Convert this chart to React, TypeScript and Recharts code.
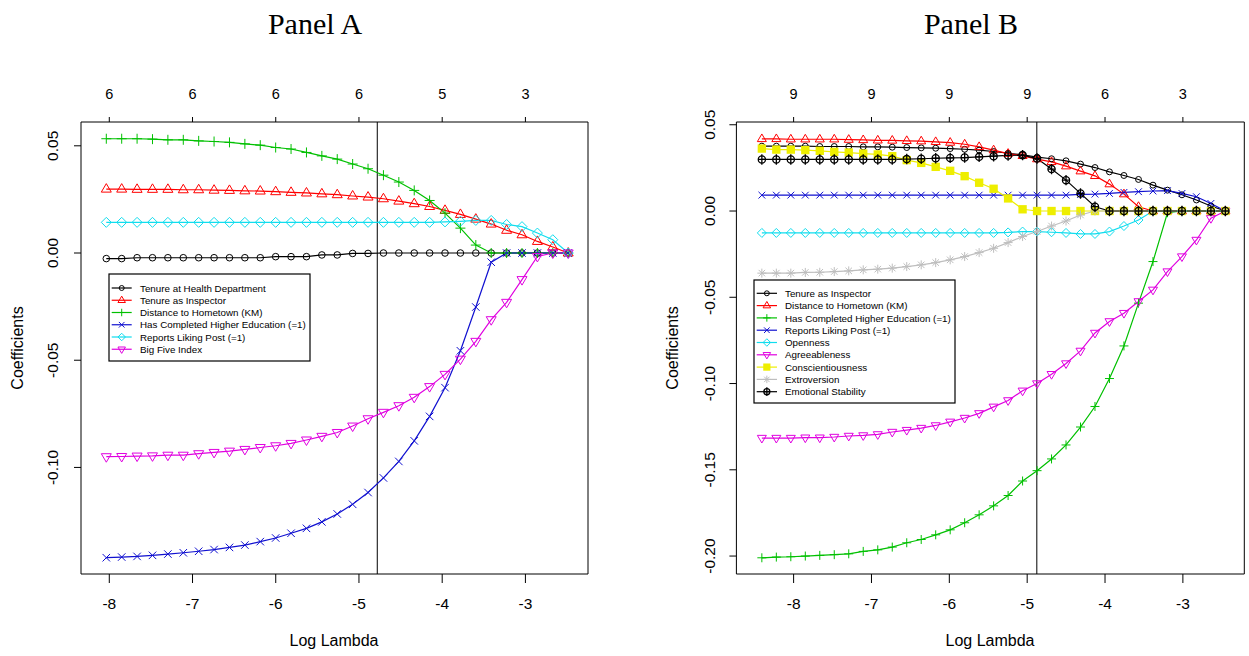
import React from 'react';
import { LineChart, Line, XAxis, YAxis, ReferenceLine } from 'recharts';

const SANS = '"Liberation Sans", Arial, sans-serif';
const SERIF = '"Liberation Serif", "Times New Roman", serif';

// ---------- axis ticks ----------
const lambdaTicks = [-8, -7, -6, -5, -4, -3];
const dfLabelsA = ['6', '6', '6', '6', '5', '3'];
const dfLabelsB = ['9', '9', '9', '9', '6', '3'];
const coefTicksA = [0.05, 0, -0.05, -0.1];
const coefTicksB = [0.05, 0, -0.05, -0.1, -0.15, -0.2];
const cvLambdaA = -4.78;
const cvLambdaB = -4.876;

// ---------- Panel A data ----------
const logLambdaA = [
  -8.036, -7.851, -7.666, -7.481, -7.296, -7.111, -6.926, -6.741, -6.556, -6.371, -6.186,
  -6.001, -5.816, -5.631, -5.446, -5.261, -5.076, -4.891, -4.706, -4.521, -4.336, -4.151,
  -3.966, -3.781, -3.596, -3.411, -3.226, -3.041, -2.856, -2.671, -2.486,
];
const tenureHealthA = [
  -0.0026, -0.0026, -0.0022, -0.0022, -0.0022, -0.0022, -0.0022, -0.0022, -0.0022, -0.0022, -0.0022,
  -0.0017, -0.0017, -0.0017, -0.0009, -0.0009, -0.0002, -0.0002, 0, 0, 0, 0, 0, 0, 0, 0, 0, 0, 0, 0, 0,
];
const tenureInspA = [
  0.0298, 0.0298, 0.0297, 0.0297, 0.0297, 0.0295, 0.0295, 0.0293, 0.0292, 0.029, 0.0289,
  0.0286, 0.0283, 0.028, 0.0276, 0.0272, 0.0266, 0.0261, 0.0253, 0.0242, 0.023, 0.0217,
  0.0199, 0.018, 0.0158, 0.0135, 0.0106, 0.0085, 0.0054, 0.0028, 0,
];
const distanceA = [
  0.0533, 0.0533, 0.0533, 0.0531, 0.0528, 0.0528, 0.0523, 0.052, 0.0516, 0.0509, 0.0503,
  0.0492, 0.0485, 0.0469, 0.0453, 0.0438, 0.0415, 0.0393, 0.0363, 0.0331, 0.0292, 0.0245,
  0.0186, 0.0116, 0.0037, 0, 0, 0, 0, 0, 0,
];
const higherEdA = [
  -0.1421, -0.1418, -0.1415, -0.141, -0.1404, -0.1398, -0.1391, -0.1383, -0.1373, -0.1362, -0.1346,
  -0.1329, -0.1307, -0.1284, -0.1254, -0.1217, -0.1172, -0.1117, -0.1049, -0.0972, -0.0876, -0.0762,
  -0.0628, -0.0456, -0.0252, -0.0043, 0, 0, 0, 0, 0,
];
const likingPostA = [
  0.0143, 0.0143, 0.0143, 0.0143, 0.0143, 0.0143, 0.0143, 0.0143, 0.0143, 0.0143, 0.0143,
  0.0143, 0.0143, 0.0143, 0.0143, 0.0143, 0.0143, 0.0143, 0.0143, 0.0143, 0.0143, 0.0143,
  0.0145, 0.0148, 0.0152, 0.0152, 0.0133, 0.0123, 0.0093, 0.0062, 0,
];
const bigFiveA = [
  -0.095, -0.0949, -0.0947, -0.0946, -0.0943, -0.0943, -0.0936, -0.093, -0.0924, -0.0916, -0.0907,
  -0.0899, -0.0888, -0.0872, -0.0855, -0.0837, -0.0807, -0.0773, -0.0743, -0.0712, -0.0673, -0.0623,
  -0.0566, -0.0495, -0.0412, -0.0311, -0.023, -0.0124, -0.0016, 0, 0,
];

// ---------- Panel B data ----------
const logLambdaB = [
  -8.408, -8.222, -8.036, -7.85, -7.664, -7.478, -7.292, -7.106, -6.919, -6.733, -6.547,
  -6.361, -6.175, -5.989, -5.803, -5.617, -5.431, -5.245, -5.059, -4.873, -4.687, -4.501,
  -4.315, -4.129, -3.943, -3.757, -3.57, -3.384, -3.198, -3.012, -2.826, -2.64, -2.454,
];
const tenureInspB = [
  0.0376, 0.0376, 0.0376, 0.0376, 0.0374, 0.0374, 0.0374, 0.0372, 0.0372, 0.037, 0.0368,
  0.0366, 0.0364, 0.0362, 0.0358, 0.0353, 0.0345, 0.0335, 0.0326, 0.0312, 0.0303, 0.0291,
  0.0272, 0.0252, 0.0227, 0.0206, 0.0183, 0.015, 0.0121, 0.0094, 0.0064, 0.0029, 0,
];
const distanceB = [
  0.0418, 0.0418, 0.0416, 0.0416, 0.0416, 0.0416, 0.0414, 0.0412, 0.041, 0.0409, 0.0407,
  0.0405, 0.0401, 0.0397, 0.0387, 0.0372, 0.0353, 0.0333, 0.032, 0.0301, 0.0285, 0.026,
  0.0231, 0.0204, 0.0156, 0.0098, 0.0025, 0, 0, 0, 0, 0, 0,
];
const higherEdB = [
  -0.201, -0.2006, -0.2004, -0.2, -0.1996, -0.1992, -0.1987, -0.1973, -0.1964, -0.1948, -0.1923,
  -0.1904, -0.1877, -0.1848, -0.1807, -0.1761, -0.1709, -0.1649, -0.1565, -0.1505, -0.1437, -0.1356,
  -0.1252, -0.1133, -0.0971, -0.0782, -0.0534, -0.0293, -0.001, 0, 0, 0, 0,
];
const likingPostB = [
  0.0092, 0.0092, 0.0092, 0.0092, 0.0092, 0.0092, 0.0092, 0.0092, 0.0092, 0.0092, 0.0092,
  0.0092, 0.0092, 0.0092, 0.0092, 0.0092, 0.0092, 0.0092, 0.0092, 0.0092, 0.0092, 0.0092,
  0.0096, 0.0098, 0.0102, 0.0108, 0.0112, 0.0116, 0.0118, 0.0102, 0.0083, 0.0044, 0,
];
const opennessB = [
  -0.0127, -0.0127, -0.0127, -0.0127, -0.0127, -0.0127, -0.0127, -0.0127, -0.0127, -0.0127, -0.0127,
  -0.0127, -0.0127, -0.0127, -0.0127, -0.0127, -0.0127, -0.0124, -0.0119, -0.0119, -0.0123, -0.0127,
  -0.0133, -0.0133, -0.0119, -0.0087, -0.0052, 0, 0, 0, 0, 0, 0,
];
const agreeablenessB = [
  -0.1316, -0.1316, -0.1316, -0.1314, -0.1314, -0.131, -0.1304, -0.1301, -0.1295, -0.1281, -0.127,
  -0.1258, -0.1243, -0.1222, -0.12, -0.1173, -0.1135, -0.1098, -0.1042, -0.1, -0.0946, -0.0884,
  -0.0811, -0.0707, -0.064, -0.0592, -0.0524, -0.0457, -0.0351, -0.0264, -0.0168, -0.0042, 0,
];
const conscientiousnessB = [
  0.0362, 0.0356, 0.0356, 0.0353, 0.0349, 0.0343, 0.0339, 0.0333, 0.0328, 0.0318, 0.0295,
  0.0279, 0.0256, 0.0233, 0.0202, 0.0164, 0.0129, 0.0073, 0.001, 0, 0, 0,
  0, 0, 0, 0, 0, 0, 0, 0, 0, 0, 0,
];
const extroversionB = [
  -0.036, -0.036, -0.036, -0.0356, -0.0355, -0.0351, -0.0347, -0.0341, -0.0337, -0.0331, -0.0322,
  -0.0312, -0.0299, -0.0283, -0.0264, -0.0241, -0.0216, -0.0183, -0.0148, -0.0119, -0.0087, -0.0058,
  -0.0023, 0, 0, 0, 0, 0, 0, 0, 0, 0, 0,
];
const emotionalB = [
  0.0299, 0.0299, 0.0299, 0.0299, 0.0299, 0.0299, 0.0299, 0.0299, 0.0299, 0.0299, 0.0301,
  0.0303, 0.0306, 0.0308, 0.031, 0.0314, 0.0318, 0.0322, 0.0324, 0.0304, 0.0243, 0.0179,
  0.0102, 0.0025, 0, 0, 0, 0, 0, 0, 0, 0, 0,
];

// ---------- series tables ----------
type Series = { key: string; name: string; color: string; shape: string; values: number[] };

const seriesA: Series[] = [
  { key: 'a1', name: 'Tenure at Health Department', color: '#000000', shape: 'circle', values: tenureHealthA },
  { key: 'a2', name: 'Tenure as Inspector', color: '#FF0000', shape: 'triUp', values: tenureInspA },
  { key: 'a3', name: 'Distance to Hometown (KM)', color: '#00C000', shape: 'plus', values: distanceA },
  { key: 'a4', name: 'Has Completed Higher Education (=1)', color: '#1010D0', shape: 'cross', values: higherEdA },
  { key: 'a5', name: 'Reports Liking Post (=1)', color: '#10DDEE', shape: 'diamond', values: likingPostA },
  { key: 'a6', name: 'Big Five Index', color: '#E000E0', shape: 'triDown', values: bigFiveA },
];

const seriesB: Series[] = [
  { key: 'b1', name: 'Tenure as Inspector', color: '#000000', shape: 'circle', values: tenureInspB },
  { key: 'b2', name: 'Distance to Hometown (KM)', color: '#FF0000', shape: 'triUp', values: distanceB },
  { key: 'b3', name: 'Has Completed Higher Education (=1)', color: '#00C000', shape: 'plus', values: higherEdB },
  { key: 'b4', name: 'Reports Liking Post (=1)', color: '#1010D0', shape: 'cross', values: likingPostB },
  { key: 'b5', name: 'Openness', color: '#10DDEE', shape: 'diamond', values: opennessB },
  { key: 'b6', name: 'Agreeableness', color: '#E000E0', shape: 'triDown', values: agreeablenessB },
  { key: 'b7', name: 'Conscientiousness', color: '#EEEE00', shape: 'squareX', values: conscientiousnessB },
  { key: 'b8', name: 'Extroversion', color: '#BEBEBE', shape: 'asterisk', values: extroversionB },
  { key: 'b9', name: 'Emotional Stability', color: '#000000', shape: 'circlePlus', values: emotionalB },
];

const buildRows = (xs: number[], series: Series[]) =>
  xs.map((x, i) => {
    const row: Record<string, number> = { x };
    series.forEach((s) => {
      row[s.key] = s.values[i];
    });
    return row;
  });

const rowsA = buildRows(logLambdaA, seriesA);
const rowsB = buildRows(logLambdaB, seriesB);

// ---------- markers ----------
function Marker({ shape, cx, cy, color, s }: { shape: string; cx: number; cy: number; color: string; s: number }) {
  const common = { stroke: color, strokeWidth: 1, fill: 'none' };
  const r = 5 * s;
  switch (shape) {
    case 'circle':
      return <circle cx={cx} cy={cy} r={3.3 * s} {...common} />;
    case 'triUp':
      return <polygon points={`${cx},${cy - r * 1.1} ${cx - r},${cy + r * 0.6} ${cx + r},${cy + r * 0.6}`} {...common} />;
    case 'triDown':
      return <polygon points={`${cx},${cy + r * 1.1} ${cx - r},${cy - r * 0.6} ${cx + r},${cy - r * 0.6}`} {...common} />;
    case 'plus':
      return (
        <g {...common}>
          <line x1={cx - r} y1={cy} x2={cx + r} y2={cy} />
          <line x1={cx} y1={cy - r} x2={cx} y2={cy + r} />
        </g>
      );
    case 'cross': {
      const q = r * 0.75;
      return (
        <g {...common}>
          <line x1={cx - q} y1={cy - q} x2={cx + q} y2={cy + q} />
          <line x1={cx - q} y1={cy + q} x2={cx + q} y2={cy - q} />
        </g>
      );
    }
    case 'diamond':
      return <polygon points={`${cx},${cy - r} ${cx + r},${cy} ${cx},${cy + r} ${cx - r},${cy}`} {...common} />;
    case 'squareX': {
      const q = r * 0.75;
      return (
        <g stroke={color} strokeWidth={1.6} fill={color}>
          <rect x={cx - q} y={cy - q} width={2 * q} height={2 * q} />
        </g>
      );
    }
    case 'asterisk': {
      const q = r * 0.72;
      return (
        <g {...common}>
          <line x1={cx - r} y1={cy} x2={cx + r} y2={cy} />
          <line x1={cx} y1={cy - r} x2={cx} y2={cy + r} />
          <line x1={cx - q} y1={cy - q} x2={cx + q} y2={cy + q} />
          <line x1={cx - q} y1={cy + q} x2={cx + q} y2={cy - q} />
        </g>
      );
    }
    case 'circlePlus':
      return (
        <g stroke={color} strokeWidth={1.3} fill="none">
          <circle cx={cx} cy={cy} r={4 * s} />
          <line x1={cx} y1={cy - 5.8 * s} x2={cx} y2={cy + 5.8 * s} />
          <line x1={cx - 4 * s} y1={cy} x2={cx + 4 * s} y2={cy} />
        </g>
      );
    default:
      return null;
  }
}

const makeDot = (shape: string, color: string, s: number) => (props: any) => {
  const { cx, cy, index } = props;
  if (cx == null || cy == null) return <g key={`e-${index}`} />;
  return <Marker key={`${shape}-${index}`} shape={shape} cx={cx} cy={cy} color={color} s={s} />;
};

const fmtCoef = (v: number) => (Math.abs(v) < 1e-9 ? '0.00' : v.toFixed(2));

const YTick = (props: any) => {
  const { y, payload, baseX } = props;
  return (
    <text
      x={baseX}
      y={y}
      transform={`rotate(-90 ${baseX} ${y})`}
      textAnchor="middle"
      fill="#000"
      fontSize={15.5}
      fontFamily={SANS}
    >
      {fmtCoef(payload.value)}
    </text>
  );
};

type PanelProps = {
  rows: Record<string, number>[];
  series: Series[];
  width: number;
  leftW: number;
  rightW: number;
  xDomain: [number, number];
  yDomain: [number, number];
  yTicks: number[];
  dfLabels: string[];
  cv: number;
  tickBaseX: number;
  s: number;
};

function Panel(p: PanelProps) {
  return (
    <LineChart width={p.width} height={656} data={p.rows} margin={{ top: 0, right: 0, bottom: 0, left: 0 }}>
      <XAxis
        xAxisId="b"
        dataKey="x"
        type="number"
        domain={p.xDomain}
        allowDataOverflow
        ticks={lambdaTicks}
        interval={0}
        orientation="bottom"
        height={82}
        stroke="#000"
        tickSize={9}
        tickMargin={15}
        tick={{ fill: '#000', fontSize: 15.5, fontFamily: SANS }}
      />
      <XAxis
        xAxisId="t"
        dataKey="x"
        type="number"
        domain={p.xDomain}
        allowDataOverflow
        ticks={lambdaTicks}
        interval={0}
        orientation="top"
        height={122}
        stroke="#000"
        tickSize={5}
        tickMargin={18}
        tick={{ fill: '#000', fontSize: 14.5, fontFamily: SANS }}
        tickFormatter={(v: number) => p.dfLabels[lambdaTicks.indexOf(v)] ?? ''}
      />
      <YAxis
        yAxisId="l"
        type="number"
        domain={p.yDomain}
        allowDataOverflow
        ticks={p.yTicks}
        interval={0}
        width={p.leftW}
        stroke="#000"
        tickSize={7}
        tick={(tp: any) => <YTick {...tp} baseX={p.tickBaseX} />}
      />
      <YAxis
        yAxisId="r"
        orientation="right"
        type="number"
        domain={p.yDomain}
        allowDataOverflow
        width={p.rightW}
        stroke="#000"
        tick={false}
        tickLine={false}
      />
      <ReferenceLine xAxisId="b" yAxisId="l" x={p.cv} stroke="#000" strokeWidth={1} />
      {p.series.map((s) => (
        <Line
          key={s.key}
          xAxisId="b"
          yAxisId="l"
          dataKey={s.key}
          type="linear"
          stroke={s.color}
          strokeWidth={1.2}
          dot={makeDot(s.shape, s.color, p.s)}
          activeDot={false}
          isAnimationActive={false}
        />
      ))}
    </LineChart>
  );
}

function LegendBox({ x, y, w, h, series, rowH, first, lineX0, lineX1, textX, fontSize, s }: any) {
  return (
    <g>
      <rect x={x} y={y} width={w} height={h} fill="#fff" stroke="#000" strokeWidth={1.2} />
      {series.map((sr: Series, i: number) => {
        const cy = y + first + i * rowH;
        const mx = x + (lineX0 + lineX1) / 2;
        return (
          <g key={sr.key}>
            <line x1={x + lineX0} y1={cy} x2={x + lineX1} y2={cy} stroke={sr.color} strokeWidth={1.2} />
            <Marker shape={sr.shape} cx={mx} cy={cy} color={sr.color} s={s * 0.75} />
            <text x={x + textX} y={cy + 3.6} fontSize={fontSize} fontFamily={SANS} fill="#000">
              {sr.name}
            </text>
          </g>
        );
      })}
    </g>
  );
}

export default function App() {
  return (
    <div style={{ position: 'absolute', left: 0, top: 0, width: 1249, height: 656, background: '#fff' }}>
      <div style={{ position: 'absolute', left: 0, top: 0 }}>
        <Panel
          rows={rowsA}
          series={seriesA}
          width={620}
          leftW={81}
          rightW={32}
          xDomain={[-8.34, -2.248]}
          yDomain={[-0.1497, 0.0611]}
          yTicks={coefTicksA}
          dfLabels={dfLabelsA}
          cv={cvLambdaA}
          tickBaseX={58.5}
          s={1}
        />
      </div>
      <div style={{ position: 'absolute', left: 640, top: 0 }}>
        <Panel
          rows={rowsB}
          series={seriesB}
          width={609}
          leftW={96.4}
          rightW={4.7}
          xDomain={[-8.735, -2.211]}
          yDomain={[-0.2104, 0.0516]}
          yTicks={coefTicksB}
          dfLabels={dfLabelsB}
          cv={cvLambdaB}
          tickBaseX={75}
          s={0.9}
        />
      </div>
      <svg
        width={1249}
        height={656}
        style={{ position: 'absolute', left: 0, top: 0, pointerEvents: 'none' }}
      >
        <text x={315} y={34} textAnchor="middle" fontFamily={SERIF} fontSize={30} fill="#000">
          Panel A
        </text>
        <text x={971} y={34} textAnchor="middle" fontFamily={SERIF} fontSize={30} fill="#000">
          Panel B
        </text>
        <text x={334} y={645.5} textAnchor="middle" fontFamily={SANS} fontSize={16} fill="#000">
          Log Lambda
        </text>
        <text x={990} y={645.5} textAnchor="middle" fontFamily={SANS} fontSize={16} fill="#000">
          Log Lambda
        </text>
        <text x={22.5} y={348} transform="rotate(-90 22.5 348)" textAnchor="middle" fontFamily={SANS} fontSize={16} fill="#000">
          Coefficients
        </text>
        <text x={678} y={348} transform="rotate(-90 678 348)" textAnchor="middle" fontFamily={SANS} fontSize={16} fill="#000">
          Coefficients
        </text>
        <LegendBox
          x={109}
          y={274}
          w={201}
          h={87}
          series={seriesA}
          rowH={12.25}
          first={14}
          lineX0={2.7}
          lineX1={22.7}
          textX={31}
          fontSize={9.8}
          s={1}
        />
        <LegendBox
          x={754}
          y={280}
          w={201}
          h={123}
          series={seriesB}
          rowH={12.3}
          first={13.3}
          lineX0={2.7}
          lineX1={23}
          textX={31}
          fontSize={9.8}
          s={1}
        />
      </svg>
    </div>
  );
}
